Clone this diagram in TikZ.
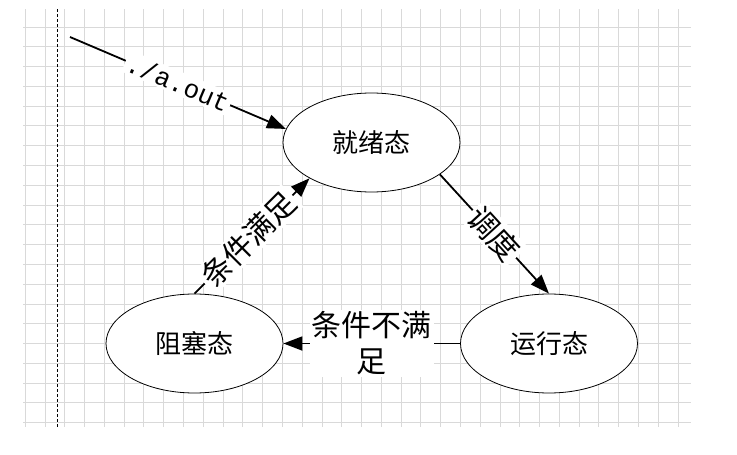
\documentclass[tikz,border=0pt]{standalone}
\usepackage{fontspec}
\setmonofont{Liberation Mono}
\newfontfamily\cjk{Noto Sans CJK SC}
\usetikzlibrary{arrows.meta, positioning, shapes.geometric, calc}

\begin{document}
\begin{tikzpicture}[x=1pt, y=-1pt,
        state/.style={ellipse, draw, fill=white, line width=0.8pt,
            minimum width=177pt, minimum height=99pt, font=\cjk\fontsize{26}{30}\selectfont},
        trans/.style={line width=1.8pt, -{Triangle[length=19pt, width=14pt]}},
        lbl/.style={fill=white, inner sep=2pt, align=center, font=\cjk\fontsize{30}{36}\selectfont}
    ]
    \useasboundingbox (0,0) rectangle (737,455);

    % grid paper behind the states
    \begin{scope}
        \clip (23,9) rectangle (691,427);
        \foreach \i in {0,...,34}
            \draw[gray!30, line width=0.8pt] (25.2+19.78*\i, 9) -- (25.2+19.78*\i, 427);
        \foreach \j in {0,...,21}
            \draw[gray!30, line width=0.8pt] (23, 7.2+19.78*\j) -- (691, 7.2+19.78*\j);
    \end{scope}
    \draw[densely dashed, line width=0.6pt] (57,9) -- (57,427);

    % states
    \node[state] (ready) at (371.5,142.5) {就绪态};
    \node[state] (block) at (194.5,343.5) {阻塞态};
    \node[state] (run) at (549,343.5) {运行态};

    \coordinate (start) at (70,37);

    % transitions
    \draw[trans] (start) -- node[lbl, sloped, font=\ttfamily\fontsize{26}{30}\selectfont] {./a.out} (ready.171);
    \draw[trans] (ready.-25) -- node[lbl, sloped] {调度} (run.north);
    \draw[trans] (block.north) -- node[lbl, sloped, pos=0.47] {条件满足} (ready.210);
    \draw[trans] (run.west) -- node[lbl] {条件不满\\足} (block.east);
\end{tikzpicture}
\end{document}
